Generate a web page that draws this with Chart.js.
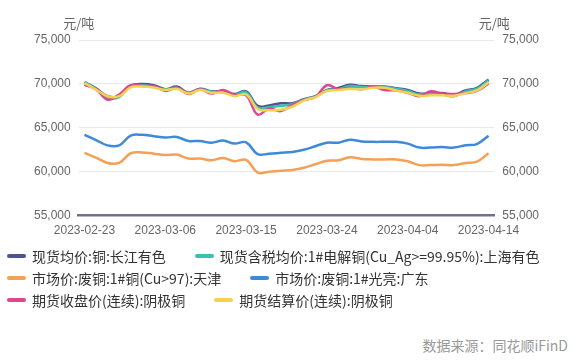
<!DOCTYPE html>
<html>
<head>
<meta charset="utf-8">
<script src="https://cdn.jsdelivr.net/npm/chart.js@4.4.0/dist/chart.umd.min.js"></script>
<style>
  body { margin: 0; background: #fff; width: 582px; height: 361px; overflow: hidden; position: relative;
         font-family: "Liberation Sans", "Noto Sans CJK SC", sans-serif; }
  #wrap { position: absolute; left: 0; top: 0; width: 582px; height: 255px; }
  #legend { position: absolute; left: 7px; top: 245px; font-size: 14px; color: #333;
            font-family: "Noto Sans CJK SC", sans-serif; }
  .row { display: flex; height: 22px; align-items: center; white-space: nowrap; }
  .item { display: flex; align-items: center; margin-right: 29px; }
  .swatch { width: 19px; height: 4px; border-radius: 2px; margin-right: 6px; }
  #source { position: absolute; right: 14px; top: 335px; font-size: 14px; color: #999;
            font-family: "Noto Sans CJK SC", sans-serif; }
</style>
</head>
<body>
<div id="wrap"><canvas id="chart" width="582" height="255"></canvas></div>
<div id="legend"></div>
<div id="source">数据来源：同花顺iFinD</div>
<script>
// trading days
var dates = [
  "2023-02-23","2023-02-24","2023-02-27","2023-02-28","2023-03-01","2023-03-02","2023-03-03",
  "2023-03-06","2023-03-07","2023-03-08","2023-03-09","2023-03-10","2023-03-13","2023-03-14",
  "2023-03-15","2023-03-16","2023-03-17","2023-03-20","2023-03-21","2023-03-22","2023-03-23",
  "2023-03-24","2023-03-27","2023-03-28","2023-03-29","2023-03-30","2023-03-31","2023-04-03",
  "2023-04-04","2023-04-06","2023-04-07","2023-04-10","2023-04-11","2023-04-12","2023-04-13",
  "2023-04-14"
];

var seriesNames = [
  "现货均价:铜:长江有色",
  "现货含税均价:1#电解铜(Cu_Ag>=99.95%):上海有色",
  "市场价:废铜:1#铜(Cu>97):天津",
  "市场价:废铜:1#光亮:广东",
  "期货收盘价(连续):阴极铜",
  "期货结算价(连续):阴极铜"
];
var colors = ["#4b5394", "#38c1b1", "#f4a057", "#3f8ad8", "#e0468f", "#f2d250"];

var changjiang = [70200,69500,68600,68600,69800,70000,69850,69400,69700,69000,69450,69150,69150,68850,69150,
  67500,67550,67800,67800,68250,68600,69300,69550,69900,69750,69700,69700,69500,69300,68900,68900,68950,68750,
  69250,69550,70500];
var shanghai = [70200,69400,68450,68500,69750,69850,69650,69350,69550,68950,69400,69100,69050,68750,69050,
  67300,67350,67500,67700,68200,68550,69250,69400,69750,69650,69650,69650,69450,69200,68800,68850,68800,68600,
  69150,69450,70400];
var tianjin = [62150,61600,61000,61000,62100,62200,62050,61900,61950,61500,61500,61300,61550,61200,61350,
  59900,60000,60100,60200,60450,60850,61250,61300,61650,61450,61400,61400,61400,61200,60750,60750,60800,60750,
  61000,61150,62100];
var guangdong = [64200,63600,63000,63000,64100,64200,64050,63900,63950,63500,63500,63300,63550,63200,63350,
  62000,62050,62150,62250,62500,62900,63300,63300,63650,63450,63400,63400,63400,63200,62750,62750,62800,62750,
  63000,63150,64100];
var closePrice = [69900,69400,68200,68800,69850,69750,69750,69200,69550,68850,69400,68900,69300,68750,68700,
  66500,67200,66900,67600,68150,68500,69850,69400,69550,69400,69700,69300,69250,69000,68600,69150,68900,68850,
  68950,69200,70050];
var settlePrice = [70100,69350,68600,68600,69600,69700,69600,69300,69450,68900,69300,69000,69000,68600,68800,
  67150,67000,67050,67400,68100,68500,69200,69300,69450,69400,69550,69550,69250,69000,68650,68700,68700,68650,
  68950,69250,70200];

var yTicks = [55000, 60000, 65000, 70000, 75000];

var allData = [changjiang, shanghai, tianjin, guangdong, closePrice, settlePrice];

var datasets = allData.map(function (d, i) {
  return {
    label: seriesNames[i],
    data: d,
    borderColor: colors[i],
    backgroundColor: colors[i],
    borderWidth: 2.5,
    pointRadius: 0,
    tension: 0.4,
    order: 6 - i
  };
});

var unitLabels = {
  id: 'unitLabels',
  afterDraw: function (chart) {
    var ctx = chart.ctx, area = chart.chartArea;
    ctx.save();
    ctx.font = '13px "Noto Sans CJK SC"';
    ctx.fillStyle = '#666';
    ctx.textAlign = 'center';
    ctx.textBaseline = 'middle';
    ctx.fillText('元/吨', area.left, area.top - 17);
    ctx.fillText('元/吨', area.right, area.top - 17);
    ctx.restore();
  }
};

var tickFont = { family: '"Liberation Sans", sans-serif', size: 12 };

function yAxis(pos) {
  return {
    position: pos,
    min: yTicks[0],
    max: yTicks[yTicks.length - 1],
    afterBuildTicks: function (axis) { axis.ticks = yTicks.map(function (v) { return { value: v }; }); },
    grid: { display: pos === 'left', color: '#e8e8f0', drawTicks: false },
    border: { display: false },
    ticks: { padding: 8, color: '#666', font: tickFont,
             callback: function (v) { return v.toLocaleString('en-US'); } }
  };
}

new Chart(document.getElementById('chart').getContext('2d'), {
  type: 'line',
  data: { labels: dates, datasets: datasets },
  options: {
    responsive: false,
    animation: false,
    layout: { padding: { top: 40, left: 26, right: 35, bottom: 9 } },
    plugins: { legend: { display: false }, tooltip: { enabled: false } },
    scales: {
      x: {
        offset: true,
        grid: { display: false, drawTicks: false },
        border: { color: '#707090', width: 2.5 },
        ticks: { autoSkip: false, maxRotation: 0, padding: 8, color: '#666', font: tickFont,
                 callback: function (v, i) { return i % 7 === 0 ? dates[i] : ''; } }
      },
      y: yAxis('left'),
      y2: yAxis('right')
    }
  },
  plugins: [unitLabels]
});

// legend, three rows of two
var legendEl = document.getElementById('legend');
for (var r = 0; r < 3; r++) {
  var row = document.createElement('div');
  row.className = 'row';
  for (var c = 0; c < 2; c++) {
    var k = r * 2 + c;
    var item = document.createElement('div');
    item.className = 'item';
    item.innerHTML = '<span class="swatch" style="background:' + colors[k] + '"></span><span></span>';
    item.lastChild.textContent = seriesNames[k];
    row.appendChild(item);
  }
  legendEl.appendChild(row);
}
</script>
</body>
</html>
